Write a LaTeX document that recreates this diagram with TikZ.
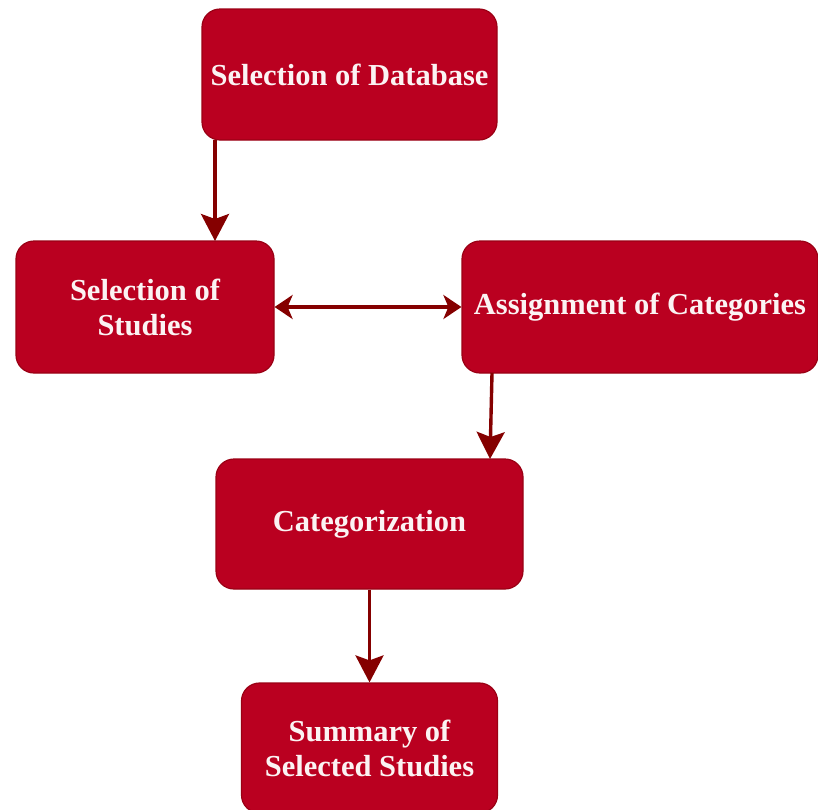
\documentclass[tikz,border=0pt]{standalone}
\usepackage{fontspec}
\setmainfont{Liberation Serif}
\usetikzlibrary{arrows.meta}

\definecolor{boxfill}{HTML}{BA0020}
\definecolor{boxline}{HTML}{9A0014}
\definecolor{arrowcol}{HTML}{850000}
\definecolor{labelcol}{HTML}{FBF3F3}

\tikzset{
  stagebox/.style={draw=boxline, line width=1.2pt, fill=boxfill,
    rounded corners=18pt, text=labelcol, align=center,
    font=\fontsize{30.5}{35}\selectfont\bfseries, inner sep=0pt},
  flow/.style={draw=arrowcol, line width=3.4pt,
    -{Stealth[length=27pt,width=28pt,inset=5pt]}},
  bothflow/.style={draw=arrowcol, line width=3.2pt,
    {Stealth[length=18pt,width=24pt,inset=5pt]}-{Stealth[length=18pt,width=24pt,inset=5pt]}}
}

\begin{document}
\begin{tikzpicture}[x=1pt,y=-1pt]
  \useasboundingbox (0,0) rectangle (818,809);

  % process stages
  \node[stagebox, minimum width=295pt, minimum height=131pt] (db) at (349.5,74.5) {Selection of Database};
  \node[stagebox, minimum width=258pt, minimum height=132pt] (studies) at (145,307) {Selection of\\Studies};
  \node[stagebox, minimum width=356pt, minimum height=132pt] (assign) at (640,307) {Assignment of Categories};
  \node[stagebox, minimum width=307pt, minimum height=130pt] (cat) at (369.5,524) {Categorization};
  \node[stagebox, minimum width=256pt, minimum height=130pt] (summary) at (369.5,748) {Summary of\\Selected Studies};

  % connectors
  \coordinate (dbfoot) at (215,140);
  \coordinate (studhead) at (215,241);
  \draw[flow] (dbfoot) -- (studhead);
  \draw[bothflow] (studies.east) -- (assign.west);
  \coordinate (assfoot) at (492,373);
  \coordinate (cathead) at (490,459);
  \draw[flow] (assfoot) -- (cathead);
  \draw[flow] (cat.south) -- (summary.north);
\end{tikzpicture}
\end{document}
